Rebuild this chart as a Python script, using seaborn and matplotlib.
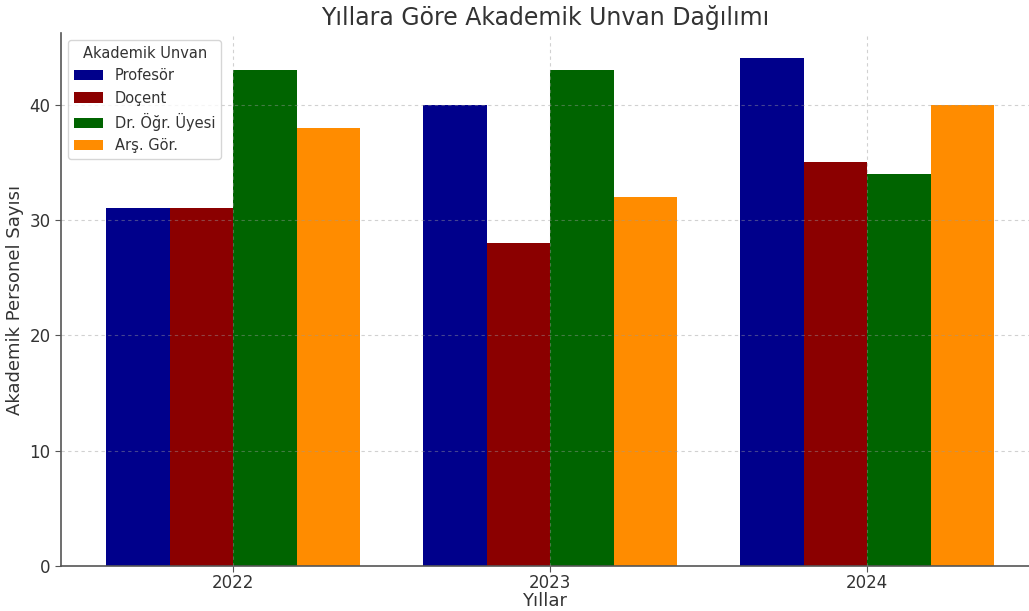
import matplotlib
matplotlib.use("Agg")
import matplotlib.pyplot as plt
import seaborn as sns
import pandas as pd

years = ["2022", "2023", "2024"]
titles = ["Profesör", "Doçent", "Dr. Öğr. Üyesi", "Arş. Gör."]
profesor = [31, 40, 44]
docent = [31, 28, 35]
dr_ogr = [43, 43, 34]
ars_gor = [38, 32, 40]
colors = ["#00008B", "#8B0000", "#006400", "#FF8C00"]

series = [profesor, docent, dr_ogr, ars_gor]
rows = []
for t, vals in zip(titles, series):
    for y, v in zip(years, vals):
        rows.append({"Yıl": y, "Unvan": t, "Sayı": v})
df = pd.DataFrame(rows)

sns.set_style("white")
plt.rcParams['font.family'] = ['DejaVu Sans']
text_color = "#333333"
plt.rcParams['text.color'] = text_color
plt.rcParams['axes.labelcolor'] = text_color
plt.rcParams['xtick.color'] = text_color
plt.rcParams['ytick.color'] = text_color

fig = plt.figure(figsize=(10.29, 6.11), dpi=100)
ax = fig.add_axes([0.0593, 0.0736, 0.9407, 0.8724])
sns.barplot(data=df, x="Yıl", y="Sayı", hue="Unvan", hue_order=titles,
            palette=colors, ax=ax, saturation=1, width=0.8, linewidth=0)

ax.set_xlim(-0.543, 2.51)
ax.set_ylim(0, 46.2)
ax.set_yticks([0, 10, 20, 30, 40])
ax.set_axisbelow(False)
ax.grid(True, linestyle=(0, (3, 3)), color="#999999", linewidth=0.8, alpha=0.45)
for s in ["top", "right"]:
    ax.spines[s].set_visible(False)
for s in ["left", "bottom"]:
    ax.spines[s].set_color("#555555")
    ax.spines[s].set_linewidth(1.2)
ax.tick_params(axis="both", labelsize=12, length=4, color="#555555", left=True, bottom=True)
ax.tick_params(axis="x", pad=2)

ax.set_title("Yıllara Göre Akademik Unvan Dağılımı", fontsize=17, color=text_color, pad=6)
ax.set_xlabel("Yıllar", fontsize=13, labelpad=0)
ax.set_ylabel("Akademik Personel Sayısı", fontsize=13)

leg = ax.legend(title="Akademik Unvan", loc="upper left", fontsize=10.5, title_fontsize=10.5,
                frameon=True)
leg.get_frame().set_edgecolor("#cccccc")

fig.savefig("out.png", dpi=100)
